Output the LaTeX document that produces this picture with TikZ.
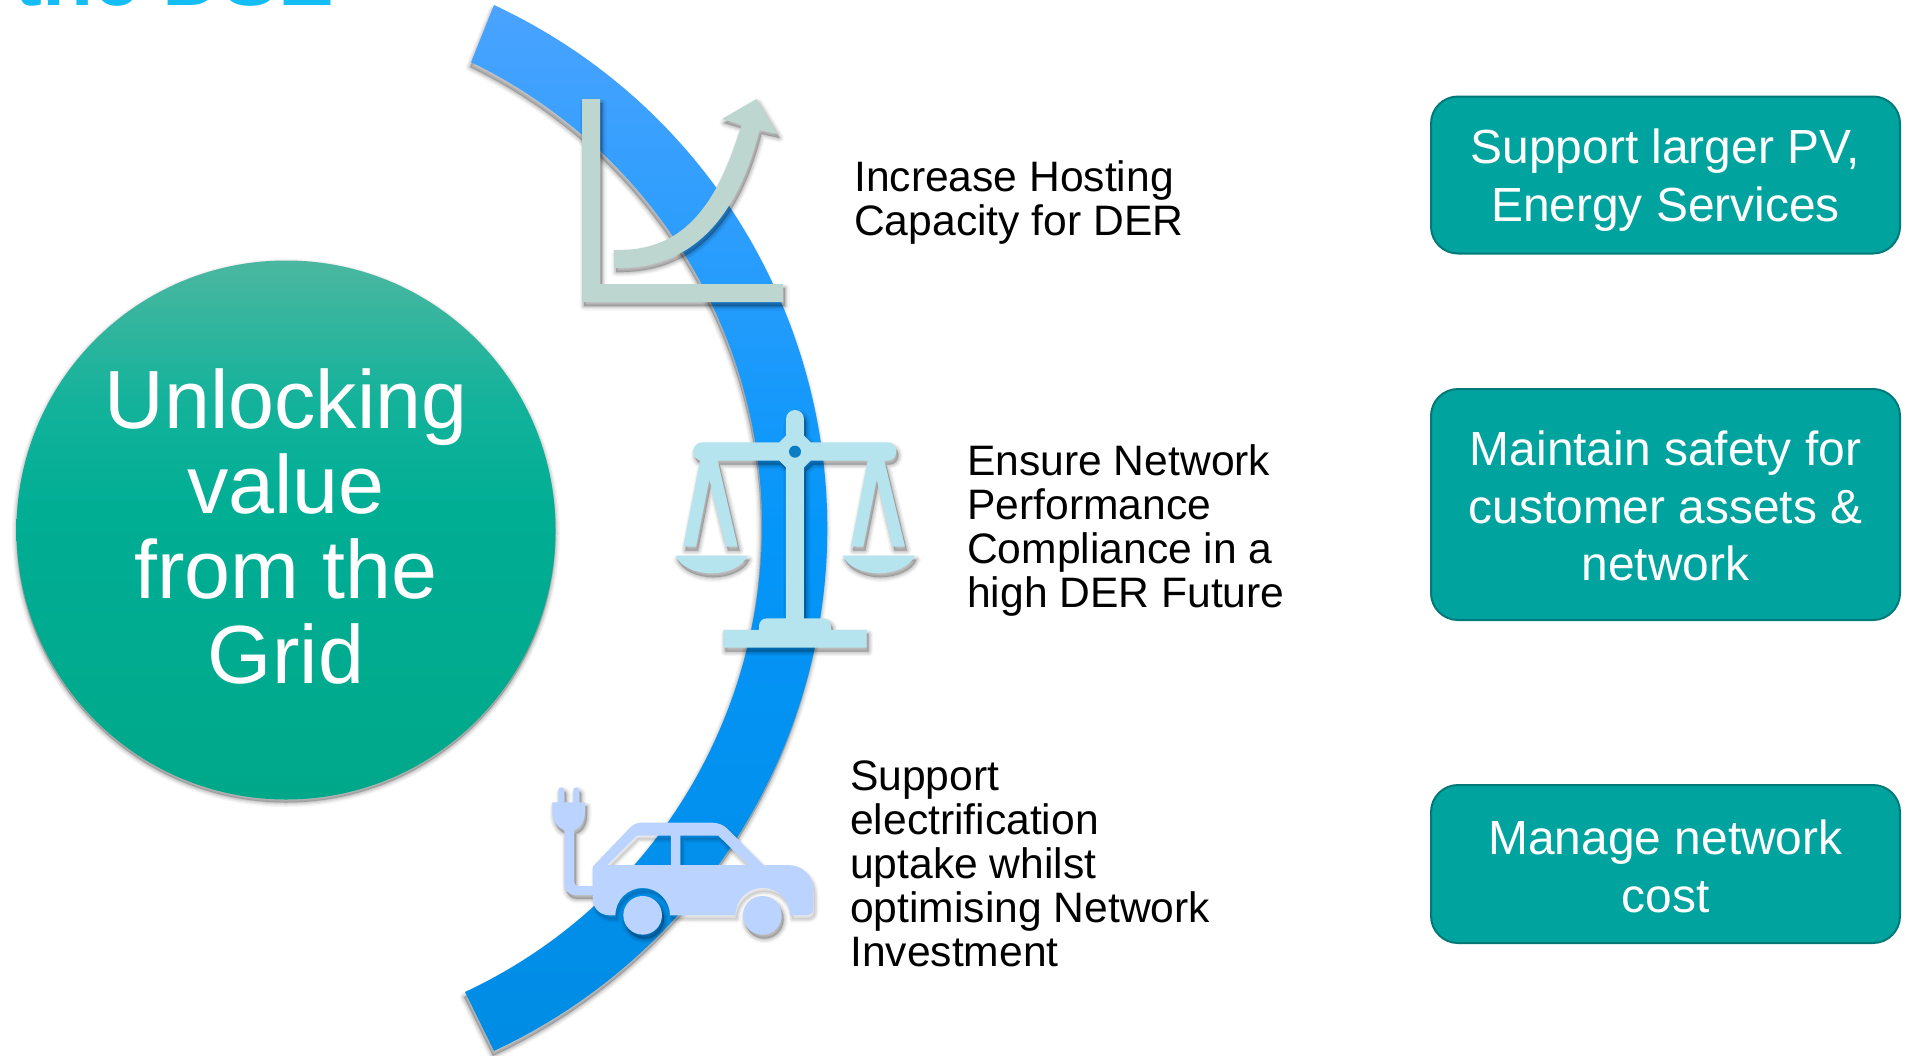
\documentclass[tikz,border=0pt]{standalone}
\usepackage{fontspec}
\setmainfont{Liberation Sans}
\definecolor{bandtop}{RGB}{74,163,255}
\definecolor{bandmid}{RGB}{5,150,250}
\definecolor{bandbot}{RGB}{0,140,228}
\definecolor{disctop}{RGB}{75,183,160}
\definecolor{discup}{RGB}{20,178,155}
\definecolor{discmid}{RGB}{0,174,148}
\definecolor{discbot}{RGB}{0,168,138}
\definecolor{boxfill}{RGB}{0,163,158}
\definecolor{boxline}{RGB}{0,122,120}
\definecolor{graphc}{RGB}{189,215,208}
\definecolor{scalec}{RGB}{181,227,238}
\definecolor{carc}{RGB}{187,211,255}
\definecolor{holec}{RGB}{10,125,195}
\definecolor{titlec}{RGB}{20,190,245}
\pgfdeclareverticalshading{discshade}{100bp}{color(0bp)=(discbot); color(25bp)=(discbot); color(52bp)=(discmid); color(62bp)=(discup); color(75bp)=(disctop); color(100bp)=(disctop)}
\newcommand{\softshadow}[2][2,4]{%
  \begin{scope}[shift={(#1)},line join=round]
    \fill[black,opacity=.04,draw=black,line width=9pt] #2;
    \fill[black,opacity=.05,draw=black,line width=6.5pt] #2;
    \fill[black,opacity=.07,draw=black,line width=4pt] #2;
    \fill[black,opacity=.07,draw=black,line width=1.5pt] #2;
  \end{scope}}
\tikzset{
  outcome/.style={draw=boxline,line width=2pt,fill=boxfill,rounded corners=27pt,inner sep=0pt,minimum width=469pt},
  outcometext/.style={text=white,font=\fontsize{47.9}{57.8}\selectfont,align=center,inner sep=0pt},
  lever/.style={font=\fontsize{42.6}{44}\selectfont,align=left,inner sep=0pt,anchor=west,text=black},
}
\begin{document}
\begin{tikzpicture}[x=1pt,y=-1pt]
\useasboundingbox (0,0) rectangle (1908,1055);
\fill[white] (0,0) rectangle (1908,1055);
% title fragment
\begin{scope}
\clip (0,0) rectangle (1908,1055);
\node[anchor=base west,inner sep=0pt,text=titlec,font=\bfseries\fontsize{83.5}{83.5}\selectfont] (title) at (14,5.5) {the DSE};
\end{scope}
% band
\def\bandpath{(494,5) arc[start angle=65,end angle=-65,x radius=577,y radius=-577] -- (465,992) arc[start angle=-64.95,end angle=64.2,x radius=514.8,y radius=-514.8] -- cycle}
\softshadow[-1,5]{\bandpath}
\shade[top color=bandtop,bottom color=bandbot,middle color=bandmid] \bandpath;
% disc
\softshadow[0,3]{(286,530) circle[radius=269.5]}
\node[circle,minimum size=539pt,inner sep=0pt,shading=discshade,shading angle=0] (disc) at (286,530) {};
\node[text=white,font=\fontsize{82.6}{85}\selectfont,align=center,inner sep=0pt] (disctext) at (286,526.5) {Unlocking\\value\\from the\\Grid};
% graph icon
\def\axespath{(582,99) -- (600,99) -- (600,284) -- (783,284) -- (783,302) -- (582,302) -- cycle}
\def\curvepath{(614,250) .. controls (684,252) and (717,205) .. (741.5,125) -- (722,119) -- (756.5,99) -- (777.5,134) -- (759.5,130) .. controls (738,215) and (694,270) .. (614,268) -- cycle}
\softshadow{\axespath}
\fill[graphc] \axespath;
\softshadow{\curvepath}
\fill[graphc] \curvepath;
% scale icon
\begin{scope}[shift={(650,390)},x=.3333pt,y=-.3333pt]
  \def\scalepath{(408,87) arc[start angle=180,end angle=360,radius=27] -- (462,137) -- (482,157) -- (712,157) arc[start angle=270,end angle=450,radius=27.5] -- (703,212) -- (765,470) -- (728,470) -- (680,268) -- (640,470) -- (603,470) -- (653,212) -- (482,212) -- (462,232) -- (462,685) -- (520,685) arc[start angle=270,end angle=360,radius=23] -- (543,720) -- (650,720) -- (650,773) -- (220,773) -- (220,720) -- (327,720) -- (327,708) arc[start angle=180,end angle=270,radius=23] -- (408,685) -- (408,232) -- (388,212) -- (203,212) -- (263,470) -- (228,470) -- (178,268) -- (138,470) -- (100,470) -- (150,212) -- (157,212) arc[start angle=90,end angle=270,radius=27.5] -- (388,157) -- (408,137) -- cycle}
  \def\panL{(77,497) -- (292,497) .. controls (280,530) and (230,550) .. (184,550) .. controls (138,550) and (90,530) .. (77,497) -- cycle}
  \def\panR{(579,497) -- (794,497) .. controls (782,530) and (732,550) .. (686,550) .. controls (640,550) and (592,530) .. (579,497) -- cycle}
  \softshadow[6,12]{\scalepath}
  \softshadow[6,12]{\panL}
  \softshadow[6,12]{\panR}
  \fill[scalec] \scalepath;
  \fill[scalec] \panL;
  \fill[scalec] \panR;
  \fill[holec] (435,185) circle[radius=18];
\end{scope}
% car icon
\begin{scope}[shift={(530,770)},x=.3333pt,y=-.3333pt]
  \def\plugpath{(85,97) -- (85,61) arc[start angle=180,end angle=360,radius=9] -- (103,97) -- (130,97) -- (130,61) arc[start angle=180,end angle=360,radius=9] -- (148,97) -- (165,97) -- (165,125) .. controls (165,155) and (150,175) .. (132,180) -- (132,335) arc[start angle=180,end angle=90,radius=13] -- (190,348) -- (190,375) -- (135,375) arc[start angle=90,end angle=180,radius=32] -- (103,180) .. controls (85,175) and (67,155) .. (67,125) -- (67,97) -- cycle}
  \def\carpath{(188,290) -- (295,178) .. controls (308,164) and (318,158) .. (335,158) -- (545,158) .. controls (565,158) and (580,165) .. (592,176) -- (700,285) -- (775,285) .. controls (820,285) and (850,320) .. (850,360) -- (850,415) .. controls (850,428) and (842,436) .. (828,436) -- (780,436) arc[start angle=0,end angle=-180,radius=82] -- (420,436) arc[start angle=0,end angle=-180,radius=82] -- (240,436) .. controls (210,436) and (188,415) .. (188,385) -- cycle (232,285) -- (423,285) -- (423,197) -- (320,197) -- cycle (451,285) -- (655,285) -- (565,197) -- (451,197) -- cycle}
  \softshadow[6,12]{\plugpath}
  \softshadow[6,12]{(338,436) circle[radius=58]}
  \softshadow[6,12]{(697,436) circle[radius=58]}
  \begin{scope}[shift={(6,12)}]
    \fill[black,opacity=.08,even odd rule] \carpath;
    \draw[black,opacity=.05,line width=6pt,line join=round] \carpath;
    \draw[black,opacity=.07,line width=3pt,line join=round] \carpath;
  \end{scope}
  \fill[carc] \plugpath;
  \fill[carc,even odd rule] \carpath;
  \fill[carc] (338,436) circle[radius=58];
  \fill[carc] (697,436) circle[radius=58];
\end{scope}
% labels
\node[lever] (l1) at (854,202) {Increase Hosting\\Capacity for DER};
\node[lever] (l2) at (967,530) {Ensure Network\\Performance\\Compliance in a\\high DER Future};
\node[lever] (l3) at (850,864) {Support\\electrification\\uptake whilst\\optimising Network\\Investment};
% outcome boxes
\node[outcome,minimum height=157pt] (b1) at (1665.5,175) {};
\node[outcometext] (b1t) at (1665.5,180) {Support larger PV,\\Energy Services};
\node[outcome,minimum height=231pt] (b2) at (1665.5,504.5) {};
\node[outcometext] (b2t) at (1665.5,506) {Maintain safety for\\customer assets \&\\network};
\node[outcome,minimum height=158pt] (b3) at (1665.5,864) {};
\node[outcometext] (b3t) at (1665.5,866) {Manage network\\cost};
\end{tikzpicture}
\end{document}
